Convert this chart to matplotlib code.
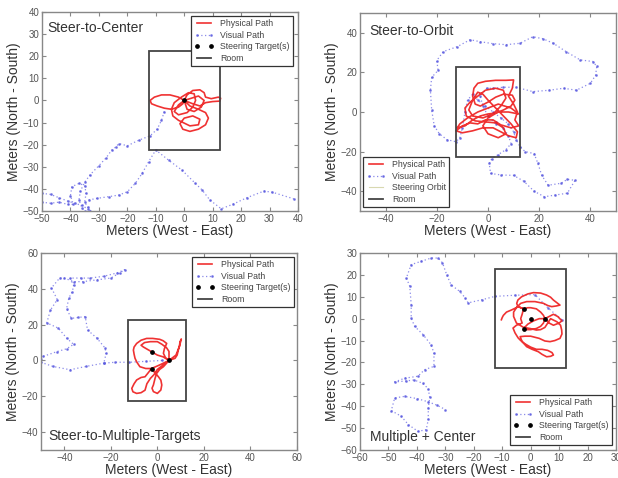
import numpy as np
import matplotlib
matplotlib.use("Agg")
import matplotlib.pyplot as plt
from matplotlib.patches import Rectangle
from matplotlib.lines import Line2D

nan = float("nan")

# ---------------- data ----------------
room_x = [-12.5, 12.5]
room_y = [-22.5, 22.5]

# Steer-to-Center
center_vis_x = [-7, -8, -9.5, -12, -16, -20, -23, -24, -25.5, -27.5, -30, -33, -35, -36.5, -37, -36, -35, nan,
                -50, -47, -44, -41, -38.5, -36, -34, nan,
                -50, -47, -44, -41, -39, -40, -39.5, -37, -35, -34.5, -35, -34, -33, nan,
                -33.6, -30.7, -26.5, -23, -20, -17.2, -14.8, -12.5, -10, -5.5, -0.8, 3.9, 6.3, 9, 13, 17, 22, 28, 31, 38.5]
center_vis_y = [-5, -9, -13, -16, -18, -20.5, -19.5, -21, -22.5, -26, -29.5, -33.5, -37, -41, -45, -48.5, -50, nan,
                -42, -42.5, -44, -45.5, -46.5, -47.5, -49, nan,
                -46, -46.5, -46, -47, -47, -43, -39, -37.5, -38.5, -42, -46, -48, -50, nan,
                -45, -44.3, -43.5, -42.8, -41.3, -37.5, -33, -27.7, -22.4, -27, -31.5, -37.5, -40.5, -45, -49, -47, -44, -41, -41.5, -44.5]
center_phys_x = [0, -2, -5, -8, -10.5, -12, -11.5, -9.5, -7, -4.5, -2, -0.5, 0,
                 1, 3, 5.5, 7, 7.5, 9.5, 12, 12.8, 12.5, 10, 7.5, 5.5, 3, 0,
                 2, 5, 7.5, 8.5, 7.5, 5, 2, -0.5, -1.5, 0, 3, 5.5, 5, 2,
                 -2, -4, -4.5, -3.5, -1, 1.5, 3.5, 4, 3, 1, -2, -3.5, -2, 0,
                 2.5, 5, 7, 6, 3.5, 1, 0]
center_phys_y = [0, 1.5, 2.5, 2.5, 1.5, 0, -1.5, -2.5, -3.5, -4, -3, -1.5, 0,
                 2.5, 4.5, 4.8, 3.5, 1.5, 0.8, 1.5, 1, -0.3, -0.5, -1, -2.5, -1.5, 0,
                 -2.5, -4, -5.5, -8, -11, -13, -14, -13, -10.5, -8, -7, -8.5, -11, -11.5,
                 -9, -7, -4, -1, 1.5, 3.5, 3, 0, -3, -5.5, -6.5, -5, -2, 0,
                 1, 2, 0, -3, -5, -4, 0]
center_tx = [0]
center_ty = [0]

# Steer-to-Orbit
orbit_vis_x = [3, 6, 8, 9, 7, 4, 1.5, 0.5, 1, 5, 10, 14, 18, 22, 26, 31, 34, 31, 28.5, 23.5, 21, 19.5, 18, 14.5, 12.5,
               11, 10, 8, 5, 2, -1, -4, -6, -8, -9, -10, -11, -12.5, -16, -19, -21, -22, -22.5, -22, -19.5, -20, -17.5,
               -12, -7, -3, 2, 7, 12.5, 17.5, 21.5, 25.5, 30.5, 36, 41, 42.5, 42, 40, 34.5, 29.5, 24, 17.5, 11, 6, 2,
               -0.5, -3, -2, 0, 3]
orbit_vis_y = [-5, -8, -12, -16, -19, -21.5, -23.5, -26, -31, -31.8, -32, -35, -40, -42.8, -42, -41, -34.5, -34, -36, -37,
               -32, -26, -21, -20, -17.5, -14, -10, -6, -3, 0, 3, 6, 9, 6, 0, -8, -13, -15, -14, -11, -7, 1, 11, 17.5,
               21, 26, 30.5, 33, 36.5, 35.5, 34.5, 34, 34.7, 38, 37, 34.7, 30.5, 26.3, 25.5, 23, 18.5, 14.5, 11, 12, 11,
               10.3, 12.5, 12.5, 12, 12, 8, 3, -2, -6]
orbit_phys_x = [-12, -9, -6, -3, 0, 3, 6, 9, 10.5, 9.5, 6, 3, 0, -3, -5, -6, -5.5, -4, -1, 3, 7, 10, 9.5, 8, 10, 11.5,
                10.5, 12, 9, 5, 2, -1, -4, -7, -10, -12.5, -10, -6, -2, 2, 5, 8, 11, 11.5, 9, 6, 3, 0, -2, -4, -6,
                -7.5, -6, -2, 2, 5, 7, 6, 3, -1, -4, -7, -9, -8.5, -5, -1, 3, 6, 7, 4, 0, -2, 0, 4, 8, 12, 9, 4, 0,
                -4, -8, -11, -12]
orbit_phys_y = [-8, -7, -4, -2, -1, -0.5, 1, 3, 6, 8.5, 9, 7.5, 5, 3, 4, 8, 12, 14.5, 15.5, 16, 16, 16.2, 12, 8, 4, 0,
                -4, -7, -8, -6.5, -4, -4, -6, -5.5, -7, -9.5, -10.5, -9.5, -8, -8, -10, -12, -13, -10, -6, -2, 2, 6,
                9, 10, 6, 1, -2, -3, -1, 3, 7, 11, 12, 11, 8, 5, 2, -2, -4.5, -5, -5.5, -8, -11, -13, -11, -7, -3, 0,
                0, -1, 2, 4, 2, 0, -3, -6, -8]

# Steer-to-Multiple-Targets
multi_vis_x = [2, -5, -12, -18, -23, -22, -22.5, -26, -30, -31, -34, -37, -39, -38, -36.5, -36, -37.5, -33, -29, -23,
               -17.5, -14, -16, -20, -26, -32, -36, -40, -42, -45.5, -43, -46, -47.5, -42.5, -39, -36, -39, -43, -49,
               -50, -45, -37.5, -30.5, -23]
multi_vis_y = [0, -0.5, -1, -1, -1.5, 4, 7, 12.5, 17, 24.5, 24, 23.5, 29, 35, 38.5, 42, 46, 46, 46, 47, 48.8, 50.7,
               49, 46, 45, 44, 44, 46, 46, 40.5, 34, 28, 21, 18, 12.5, 9, 6.5, 5, 2.3, -1, -3.3, -5.2, -3.3, -1.5]
multi_phys_x = [5, 3.5, 2.6, 3, 4, 2.5, 1, -2, -4.6, -7, -8.9, -10, -10.3, -10, -9.6, -8.8, -7.5, -5, -2.5, 1, 5,
                7.6, 8.5, 9, 9.5, 9.7, 10.1, 10.3, 9.5, 8, 5, 2, 0, -1.5, -3, -4.5, -5.3, -7, -8.9, -10.5, -11, -10,
                -8.9, -7, -5.3, -4, -2.5, -1, 0.4, 1.5, 1.9, 1.5, 0, -1.7, -2.3, -1.7, -1, -0.3, 1, 2.6, 5, 2.5, 0,
                -2, -4, -6, -7, -5.5, -3, 0, 2, 4, 5, 5]
multi_phys_y = [0, 1.5, 4, 6.5, 9.5, 11, 11.8, 12.3, 12.3, 11.3, 9.5, 7.5, 5.8, 3.5, 1.2, -1, -3.5, -4.5, -4.5, -2.5,
                0, 1.2, 3, 5.8, 8, 10.4, 11.4, 12, 8, 3, 0, -3, -5, -8, -10, -13, -16.6, -18, -18.4, -17.5, -15.6,
                -13, -10.9, -9.5, -9.1, -7, -4.5, -7, -9, -11, -13.7, -16.5, -18.4, -17.4, -15.5, -13.7, -10, -7.2,
                -5, -3.5, 0, 2, 3, 4.5, 6, 7.5, 8.5, 10, 10.5, 10.5, 9, 7, 5, 0]
multi_tx = [-2.5, -2.5, 5]
multi_ty = [4.5, -4.5, 0]

# Multiple + Center
mc_vis_x = [11, 6, 1.5, -5.5, -12.5, -17, -22, -23, -25, -28, -29.5, -31, -32.5, -35, -38.5, -42, -43.7, -42.5, -42,
            -42, -40.8, -37.8, -35, -34, -34, -37.3, -39.6, -44.3, -47.8, -44, -41, -38, -36, -35.5, -36, -36, -36.7,
            -39.6, -43, -45.5, -49, -47.8, -44.3, -40, -36, -33, -30]
mc_vis_y = [-0.5, 5, 11, 10.7, 10.2, 8.7, 7.2, 9.5, 12.5, 15.5, 20, 25.5, 27.7, 27.7, 26.2, 24.7, 18.6, 14.8, 6.4, 0.3,
            -3.5, -7.3, -12, -15.7, -21.8, -23.3, -26.3, -27.2, -28.9, -28.5, -28, -29.5, -32, -36, -41, -46, -50.7,
            -51.5, -48.4, -44.6, -42, -36.2, -35.5, -36.5, -38, -39.5, -41.5]
mc_phys_x = [-10.3, -10, -9.6, -8.5, -6.7, -4.3, -2.5, -4.5, -4.9, -4.5, -3.2, -1, 1, 3.5, 5.6, 7, 8, 9, 10.3, 9,
             7.4, 6, 4.5, 1.5, -1.4, -3.5, -5, -6, -6, -5, -2.5, -0.2, 2, 3.5, 5, 7, 9.2, 10.5, 10.9, 11, 10.3, 8.5,
             6.8, 5, 3, 0, -2, -3.7, -3, -1.4, 0.5, 2.7, 4, 5.6, 7, 8, 7.5, 6, 4, 2, 0, -2, -3.5, -4.4, -5.5, -6.2,
             -5, -3, -3.5, -3, -2.5, -1, 0, 2, 3.5, 4.5, 5, 4.5, 3.5, 2, 0, -1.5, -2.5, -1, 1, 3, 5, 6.5, 8, 9.5, 11,
             10, 8, 6.5, 5]
mc_phys_y = [-0.5, 0.5, 1.5, 3, 4, 5.5, 4.5, 5.5, 7, 8.5, 10, 11.3, 11.9, 11.7, 10.8, 9.8, 8.5, 7.5, 6.2, 5.8, 5.5,
             6, 7, 7.8, 7.8, 7, 5, 3, 1, -2, -4, -4.5, -5.2, -5, -4, 0, -1.4, -3, -5.2, -7, -9, -10, -10.5, -10.2,
             -9, -8, -8, -8.2, -10.5, -12.8, -14, -15.1, -16.3, -17.4, -17.2, -16.6, -15.5, -14.5, -14, -14, -13,
             -11.5, -10, -8.8, -6.5, -4.3, -3, -2, 0, 2, 4.5, 5, 5, 4.5, 3, 1.5, 0, -2, -3.5, -4.5, -5, -5, -4.5,
             -2.5, -1, 0, 0, 1, 2, 1, -1, -2, -3, -2, 0]
mc_tx = [0, -2.5, 5, -2.5]
mc_ty = [0, 4.5, 0, -4.5]

panels = [
    dict(name="Steer-to-Center", vx=center_vis_x, vy=center_vis_y, px=center_phys_x, py=center_phys_y,
         tx=center_tx, ty=center_ty, xlim=(-50, 40), ylim=(-50, 40), xt=np.arange(-50, 41, 10),
         yt=np.arange(-50, 41, 10), orbit=False,
         rect=[42 / 618, 1 - 211 / 478, 256 / 618, 199 / 478],
         title_pos=(0.02, 0.955, "top"), leg=("upper right", (0.98, 0.98))),
    dict(name="Steer-to-Orbit", vx=orbit_vis_x, vy=orbit_vis_y, px=orbit_phys_x, py=orbit_phys_y,
         tx=None, ty=None, xlim=(-50, 50), ylim=(-50, 50), xt=np.arange(-40, 41, 20),
         yt=np.arange(-40, 41, 20), orbit=True,
         rect=[360 / 618, 1 - 211 / 478, 256 / 618, 198 / 478],
         title_pos=(0.038, 0.944, "top"), leg=("lower left", (0.012, 0.02))),
    dict(name="Steer-to-Multiple-Targets", vx=multi_vis_x, vy=multi_vis_y, px=multi_phys_x, py=multi_phys_y,
         tx=multi_tx, ty=multi_ty, xlim=(-50, 60), ylim=(-50, 60), xt=np.arange(-40, 61, 20),
         yt=np.arange(-40, 61, 20), orbit=False,
         rect=[41 / 618, 1 - 450 / 478, 256 / 618, 197 / 478],
         title_pos=(0.027, 0.05, "baseline"), leg=("upper right", (0.988, 0.98))),
    dict(name="Multiple + Center", vx=mc_vis_x, vy=mc_vis_y, px=mc_phys_x, py=mc_phys_y,
         tx=mc_tx, ty=mc_ty, xlim=(-60, 30), ylim=(-60, 30), xt=np.arange(-60, 31, 10),
         yt=np.arange(-60, 31, 10), orbit=False,
         rect=[360 / 618, 1 - 450 / 478, 256 / 618, 197 / 478],
         title_pos=(0.038, 0.044, "baseline"), leg=("lower right", (0.984, 0.025))),
]

plt.rcParams["font.family"] = ["Liberation Sans", "DejaVu Sans"]

fig = plt.figure(figsize=(6.18, 4.78), dpi=100)
fig.patch.set_facecolor("white")

for p in panels:
    ax = fig.add_axes(p["rect"])
    ax.plot(p["px"], p["py"], color="#ee1c1c", lw=1.2, alpha=0.9, label="Physical Path", zorder=3)
    ax.plot(p["vx"], p["vy"], color="#5a5ae0", lw=0.9, ls=(0, (1, 2)), marker=".", ms=2.0,
            alpha=0.7, label="Visual Path", zorder=2)
    if p["orbit"]:
        ax.add_line(Line2D([], [], color="#d8d8b0", lw=0.8, label="Steering Orbit"))
    else:
        ax.plot(p["tx"], p["ty"], ls="none", marker="o", ms=2.4, color="black",
                label="Steering Target(s)", zorder=4)
    ax.add_patch(Rectangle((room_x[0], room_y[0]), room_x[1] - room_x[0], room_y[1] - room_y[0],
                           fill=False, edgecolor="#444444", lw=1.3, zorder=5))
    ax.add_line(Line2D([], [], color="#444444", lw=1.3, label="Room"))
    ax.set_xlim(*p["xlim"])
    ax.set_ylim(*p["ylim"])
    ax.set_xticks(p["xt"])
    ax.set_yticks(p["yt"])
    ax.tick_params(direction="in", top=True, right=True, labelsize=7, labelcolor="#555555",
                   color="#888888", length=3, pad=2)
    for s in ax.spines.values():
        s.set_color("#888888")
        s.set_linewidth(1.0)
    ax.set_xlabel("Meters (West - East)", fontsize=10, color="#333333", labelpad=0)
    ax.set_ylabel("Meters (North - South)", fontsize=10, color="#333333", labelpad=1)
    tx_, ty_, va_ = p["title_pos"]
    ax.text(tx_, ty_, p["name"], transform=ax.transAxes, fontsize=10, color="#333333", va=va_, ha="left")
    loc, anchor = p["leg"]
    leg = ax.legend(loc=loc, bbox_to_anchor=anchor, fontsize=6.3, numpoints=2, fancybox=False,
                    framealpha=1, edgecolor="#333333", borderaxespad=0, handlelength=2.2,
                    labelspacing=0.3, borderpad=0.35, handletextpad=0.8)
    leg.get_frame().set_linewidth(0.9)
    for t in leg.get_texts():
        t.set_color("#444444")

fig.savefig("out.png", dpi=100, facecolor="white")
